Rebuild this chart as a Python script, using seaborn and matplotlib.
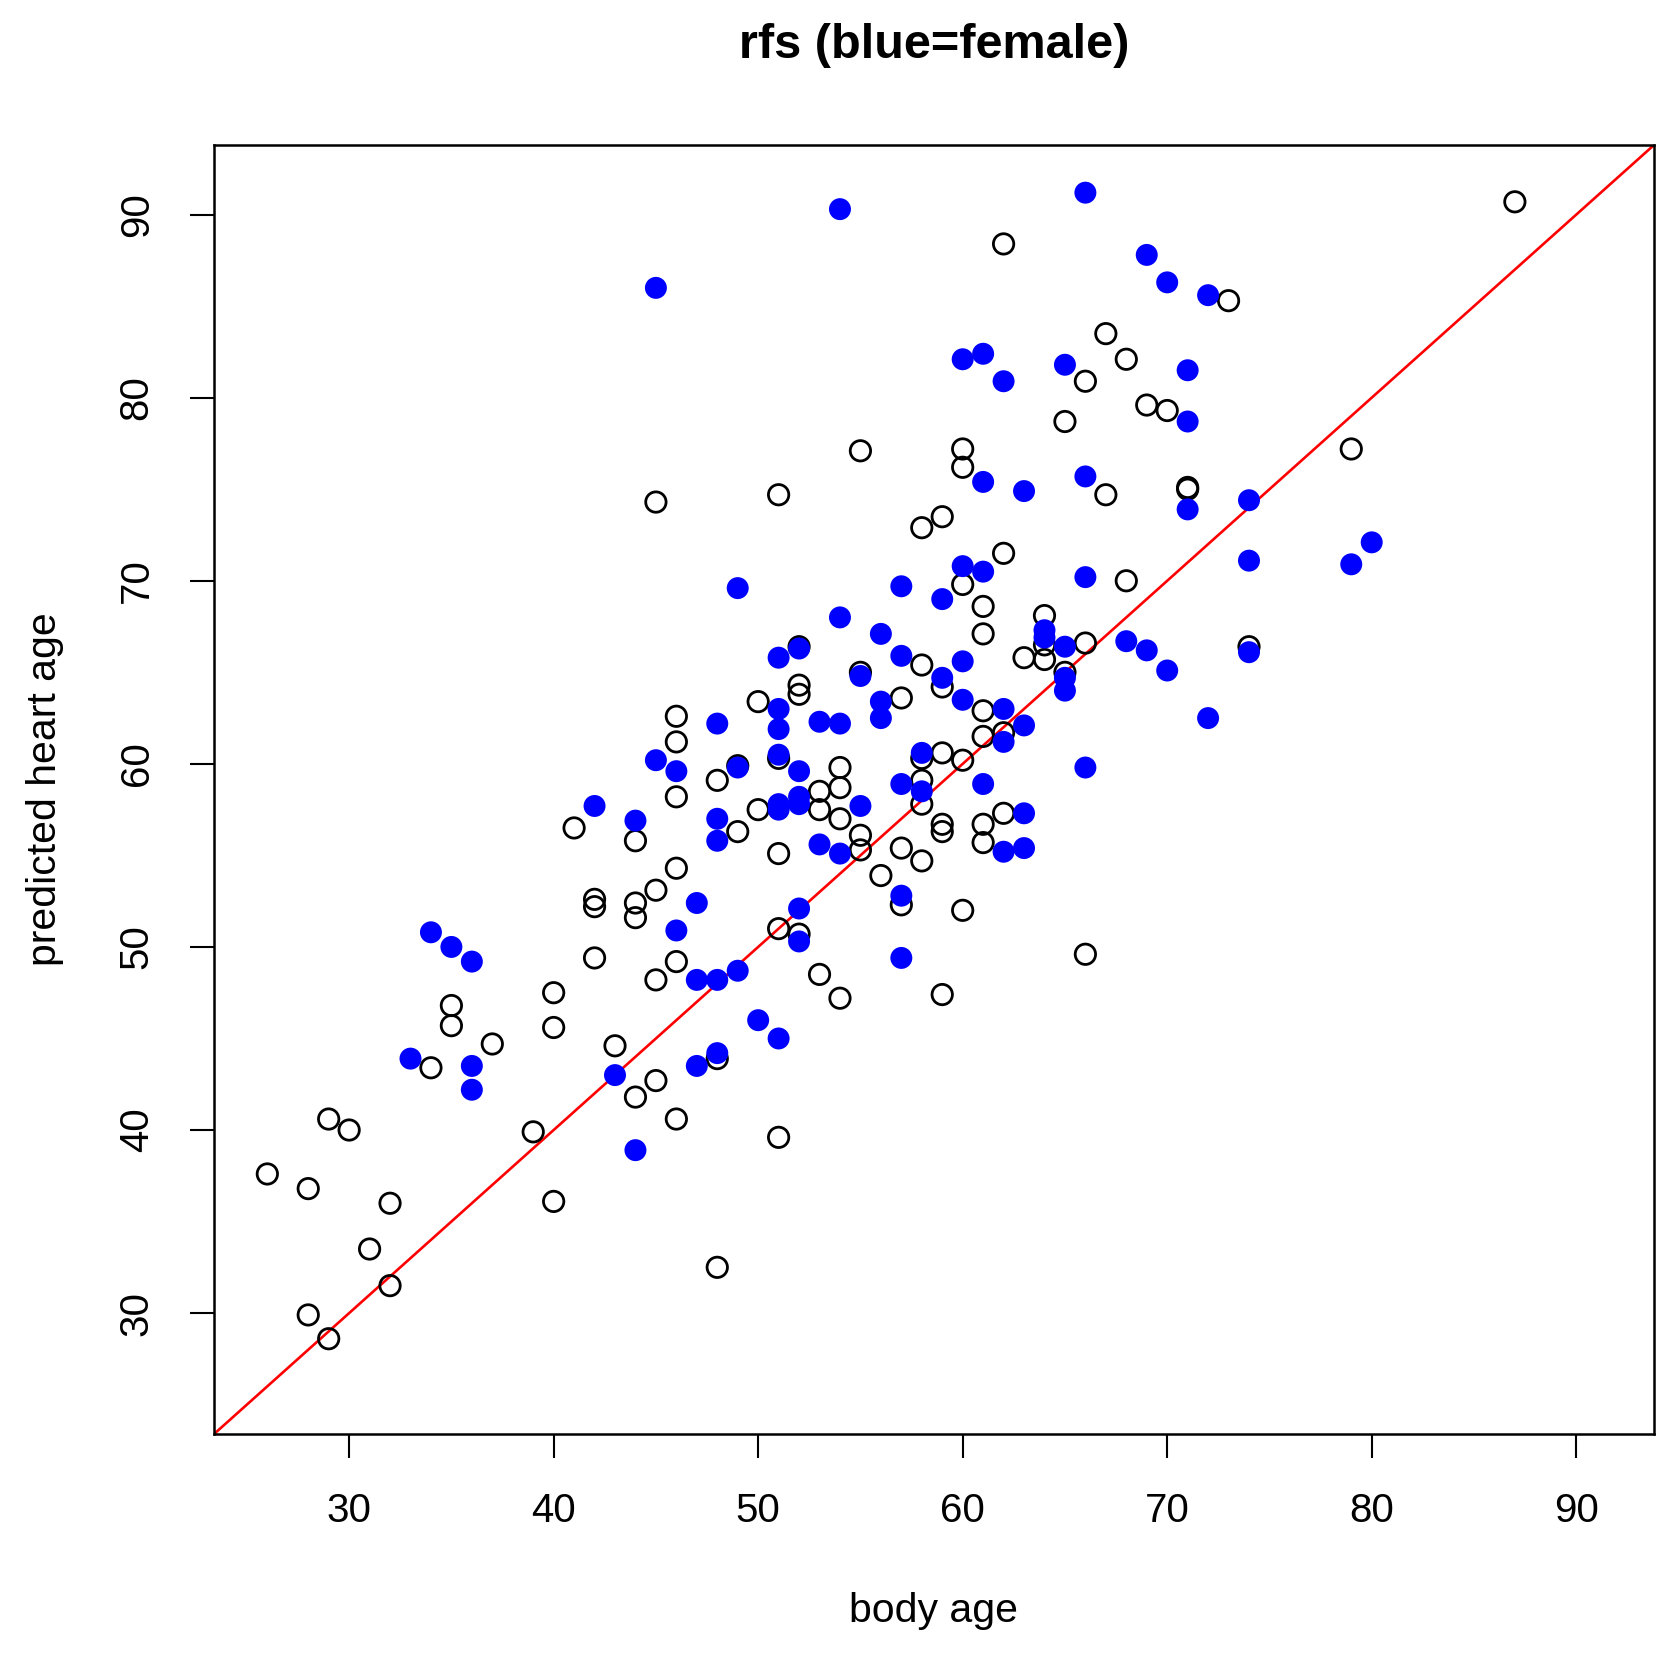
import numpy as np
import pandas as pd
import matplotlib
matplotlib.use("Agg")
import matplotlib.pyplot as plt
import seaborn as sns

# open black circles (male)
male_age = [26, 28, 28, 29, 29, 30, 31, 32, 32, 34, 35, 35, 37, 39, 40, 40, 40, 41,
            42, 42, 42, 43, 44, 44, 44, 44, 45, 45, 45, 45,
            46, 46, 46, 46, 46, 46, 48, 48, 48, 49, 49, 50, 50,
            51, 51, 51, 51, 51, 52, 52, 52, 52, 53, 53, 53, 54, 54, 54, 54,
            55, 55, 55, 55, 56, 57, 57, 57, 58, 58, 58, 58, 58, 58,
            59, 59, 59, 59, 59, 59, 60, 60, 60, 60, 60,
            61, 61, 61, 61, 61, 61, 62, 62, 62, 62, 63, 64, 64, 64, 65, 65,
            66, 66, 66, 67, 67, 68, 68, 69, 70, 71, 71, 73, 74, 79, 87]
male_pred = [37.6, 36.8, 29.9, 40.6, 28.6, 40.0, 33.5, 36.0, 31.5, 43.4, 46.8, 45.7, 44.7, 39.9, 47.5, 45.6, 36.1, 56.5,
             52.6, 52.2, 49.4, 44.6, 55.8, 52.4, 51.6, 41.8, 74.3, 53.1, 48.2, 42.7,
             62.6, 61.2, 58.2, 54.3, 49.2, 40.6, 59.1, 43.9, 32.5, 59.9, 56.3, 63.4, 57.5,
             74.7, 60.3, 55.1, 51.0, 39.6, 66.4, 64.3, 63.8, 50.7, 58.5, 57.5, 48.5, 59.8, 58.7, 57.0, 47.2,
             77.1, 65.0, 56.1, 55.3, 53.9, 63.6, 55.4, 52.3, 72.9, 65.4, 60.3, 59.1, 57.8, 54.7,
             73.5, 64.2, 60.6, 56.7, 56.3, 47.4, 77.2, 76.2, 69.8, 60.2, 52.0,
             68.6, 67.1, 62.9, 61.5, 56.7, 55.7, 88.4, 71.5, 61.7, 57.3, 65.8, 68.1, 66.5, 65.7, 78.7, 65.0,
             80.9, 66.6, 49.6, 83.5, 74.7, 82.1, 70.0, 79.6, 79.3, 75.1, 75.0, 85.3, 66.4, 77.2, 90.7]

# filled blue circles (female)
female_age = [33, 34, 35, 36, 36, 36, 42, 43, 44, 44, 45, 45, 46, 46, 47, 47, 47,
              48, 48, 48, 48, 48, 49, 49, 49, 50, 51, 51, 51, 51, 51, 51, 51,
              52, 52, 52, 52, 52, 52, 53, 53, 54, 54, 54, 54, 55, 55, 56, 56, 56,
              57, 57, 57, 57, 57, 58, 58, 59, 59, 60, 60, 60, 60, 61, 61, 61, 61,
              62, 62, 62, 62, 63, 63, 63, 63, 64, 64, 65, 65, 65, 65, 66, 66, 66, 66,
              68, 69, 69, 70, 70, 71, 71, 71, 72, 72, 74, 74, 74, 79, 80]
female_pred = [43.9, 50.8, 50.0, 49.2, 43.5, 42.2, 57.7, 43.0, 56.9, 38.9, 86.0, 60.2, 59.6, 50.9, 52.4, 48.2, 43.5,
               62.2, 57.0, 55.8, 48.2, 44.2, 69.6, 59.8, 48.7, 46.0, 65.8, 63.0, 61.9, 60.5, 57.8, 57.5, 45.0,
               66.3, 59.6, 58.2, 57.8, 52.1, 50.3, 62.3, 55.6, 90.3, 68.0, 62.2, 55.1, 64.8, 57.7, 67.1, 63.4, 62.5,
               69.7, 65.9, 58.9, 52.8, 49.4, 60.6, 58.5, 69.0, 64.7, 82.1, 70.8, 65.6, 63.5, 82.4, 75.4, 70.5, 58.9,
               80.9, 63.0, 61.2, 55.2, 74.9, 62.1, 57.3, 55.4, 67.3, 66.9, 81.8, 66.4, 64.7, 64.0, 91.2, 75.7, 70.2, 59.8,
               66.7, 87.8, 66.2, 86.3, 65.1, 81.5, 78.7, 73.9, 85.6, 62.5, 74.4, 71.1, 66.1, 70.9, 72.1]

ticks = [30, 40, 50, 60, 70, 80, 90]

male = pd.DataFrame({"age": male_age, "pred": male_pred})
female = pd.DataFrame({"age": female_age, "pred": female_pred})

sns.set_style("ticks")
plt.rcParams["font.family"] = ["Liberation Sans", "DejaVu Sans"]
plt.rcParams["text.color"] = "black"

fig = plt.figure(figsize=(16.81, 16.60), dpi=100)
ax = fig.add_axes([0.1273, 0.1361, 0.9840 - 0.1273, 0.9127 - 0.1361])

sns.scatterplot(data=male, x="age", y="pred", ax=ax, s=215, facecolors="none",
                edgecolor="black", linewidth=2.0, zorder=3)
sns.scatterplot(data=female, x="age", y="pred", ax=ax, s=250, color="#0000ff",
                edgecolor="none", linewidth=0, zorder=4)

# same range on both axes, 4% padding like R
all_vals = male_age + male_pred + female_age + female_pred
lo, hi = min(all_vals), max(all_vals)
pad = 0.04 * (hi - lo)
ax.set_xlim(lo - pad, hi + pad)
ax.set_ylim(lo - pad, hi + pad)

ax.axline((0, 0), slope=1, color="red", linewidth=1.9, zorder=2)

ax.set_xticks(ticks)
ax.set_yticks(ticks)
ax.set_xticklabels([str(t) for t in ticks])
ax.set_yticklabels([str(t) for t in ticks], rotation=90, va="center")
ax.tick_params(axis="both", direction="out", length=17, width=1.5, labelsize=29,
               color="black", labelcolor="black", pad=25)
for sp in ax.spines.values():
    sp.set_visible(True)
    sp.set_linewidth(1.8)
    sp.set_color("black")
ax.set_xlabel("")
ax.set_ylabel("")

fig.text(934 / 1681, 1 - 1611 / 1660, "body age", ha="center", va="center",
         fontsize=29.5, color="black")
fig.text(45 / 1681, 1 - 789 / 1660, "predicted heart age", ha="center", va="center",
         rotation=90, fontsize=29.5, color="black")
fig.text(934 / 1681, 1 - 45 / 1660, "rfs (blue=female)", ha="center", va="center",
         fontsize=35, fontweight="bold", color="black")

fig.savefig("out.png", dpi=100, facecolor="white")
